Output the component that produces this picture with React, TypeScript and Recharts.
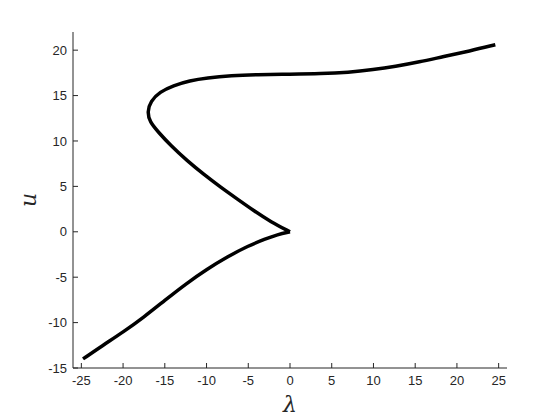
import { LineChart, Line, XAxis, YAxis, Label } from "recharts";

// lower branch: from the far left end up to the cusp at the origin
const lowerLambda = [-24.8, -22.5, -20, -17.5, -15, -12.5, -10, -7.5, -5, -3, -1.5, 0];
const lowerU = [-14.0, -12.55, -11.05, -9.4, -7.55, -5.75, -4.15, -2.75, -1.55, -0.8, -0.3, 0];

// upper branch: from the cusp round the fold and out to the right
const upperLambda = [
  0, -2.3, -4.3, -6.3, -8.3, -10.3, -12.3, -14.3, -15.8, -16.8, -17.1, -16.7, -15.6, -14, -12,
  -10, -7, -4, 0, 3.7, 7, 10, 12.6, 15.5, 18.4, 21.5, 24.6,
];
const upperU = [
  0, 1.1, 2.3, 3.6, 4.9, 6.3, 7.8, 9.5, 11, 12.1, 13.2, 14.4, 15.4, 16.1, 16.65, 16.95, 17.2,
  17.3, 17.35, 17.4, 17.55, 17.85, 18.2, 18.7, 19.3, 19.9, 20.6,
];

const xTicks = [-25, -20, -15, -10, -5, 0, 5, 10, 15, 20, 25];
const yTicks = [-15, -10, -5, 0, 5, 10, 15, 20];

const lower = lowerLambda.map((x, i) => ({ x, u: lowerU[i] }));
const upper = upperLambda.map((x, i) => ({ x, u: upperU[i] }));

const axisColor = "#262626";
const tickStyle = { fontSize: 13, fill: axisColor, fontFamily: "Liberation Sans, Arial, sans-serif" };
const labelStyle = { fontSize: 22, fontStyle: "italic", fontFamily: "DejaVu Serif, serif", fill: axisColor };

export default function App() {
  return (
    <div style={{ position: "absolute", left: 0, top: 0, background: "#fff" }}>
      <LineChart width={560} height={420} margin={{ top: 32, right: 53, bottom: 22, left: 33 }}>
        <XAxis
          type="number"
          dataKey="x"
          domain={[-26, 26]}
          ticks={xTicks}
          allowDataOverflow
          height={30}
          stroke={axisColor}
          tickSize={-5}
          tickMargin={13}
          tick={tickStyle}
        >
          <Label value="λ" position="insideBottom" offset={-14} style={labelStyle} />
        </XAxis>
        <YAxis
          type="number"
          dataKey="u"
          domain={[-15, 22]}
          ticks={yTicks}
          allowDataOverflow
          width={40}
          stroke={axisColor}
          tickSize={-5}
          tickMargin={11}
          tick={tickStyle}
        >
          <Label
            value="u"
            angle={-90}
            position="insideLeft"
            offset={-5}
            style={{ ...labelStyle, textAnchor: "middle" }}
          />
        </YAxis>
        <Line
          data={lower}
          dataKey="u"
          type="basis"
          stroke="#000"
          strokeWidth={3.5}
          dot={false}
          isAnimationActive={false}
        />
        <Line
          data={upper}
          dataKey="u"
          type="basis"
          stroke="#000"
          strokeWidth={3.5}
          dot={false}
          isAnimationActive={false}
        />
      </LineChart>
    </div>
  );
}
